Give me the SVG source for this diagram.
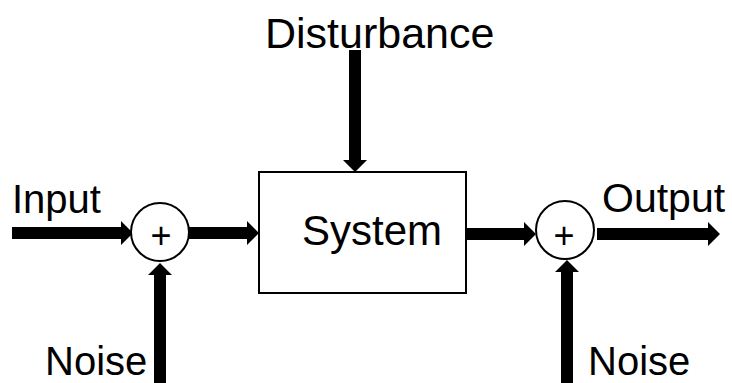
<svg xmlns="http://www.w3.org/2000/svg" width="732" height="383" viewBox="0 0 732 383">
  <style>
    .label { font-family: "Liberation Sans", Arial, sans-serif; fill: #000; }
    .block { fill: #fff; stroke: #000; stroke-width: 2; }
    .sum { fill: #fff; stroke: #000; stroke-width: 2; }
    .arrow { fill: #000; stroke: none; }
  </style>
  <rect width="732" height="383" fill="#fff"/>

  <!-- thick block arrows: shaft half-width 6, head half-width 12, head length 12 -->
  <g id="connectors">
    <polygon class="arrow" points="12,227 121,227 121,221 133,233 121,245 121,239 12,239"/>
    <polygon class="arrow" points="188,227 247,227 247,221 259,233 247,245 247,239 188,239"/>
    <polygon class="arrow" points="466,228 524,228 524,222 536,234 524,246 524,240 466,240"/>
    <polygon class="arrow" points="597,228 708,228 708,222 720,234 708,246 708,240 597,240"/>
    <polygon class="arrow" points="349,50 361,50 361,160 367,160 355,172 343,160 349,160"/>
    <polygon class="arrow" points="154,383 154,275 148,275 160,263 172,275 166,275 166,383"/>
    <polygon class="arrow" points="561,383 561,272 555,272 567,260 579,272 573,272 573,383"/>
  </g>

  <g id="system">
    <rect class="block" x="259" y="172" width="207" height="121"/>
    <text class="label" x="302" y="245" font-size="42">System</text>
  </g>

  <g id="sum-input">
    <circle class="sum" cx="160" cy="232" r="29"/>
    <text class="label" x="161" y="248" font-size="36" text-anchor="middle">+</text>
  </g>

  <g id="sum-output">
    <circle class="sum" cx="565" cy="230" r="29"/>
    <text class="label" x="564" y="248" font-size="36" text-anchor="middle">+</text>
  </g>

  <g id="input">
    <text class="label" x="12" y="213" font-size="40">Input</text>
  </g>

  <g id="output">
    <text class="label" x="602" y="212" font-size="41">Output</text>
  </g>

  <g id="disturbance">
    <text class="label" x="265" y="48" font-size="43">Disturbance</text>
  </g>

  <g id="noise-input">
    <text class="label" x="45" y="375" font-size="40">Noise</text>
  </g>

  <g id="noise-output">
    <text class="label" x="588" y="375" font-size="40">Noise</text>
  </g>
</svg>
